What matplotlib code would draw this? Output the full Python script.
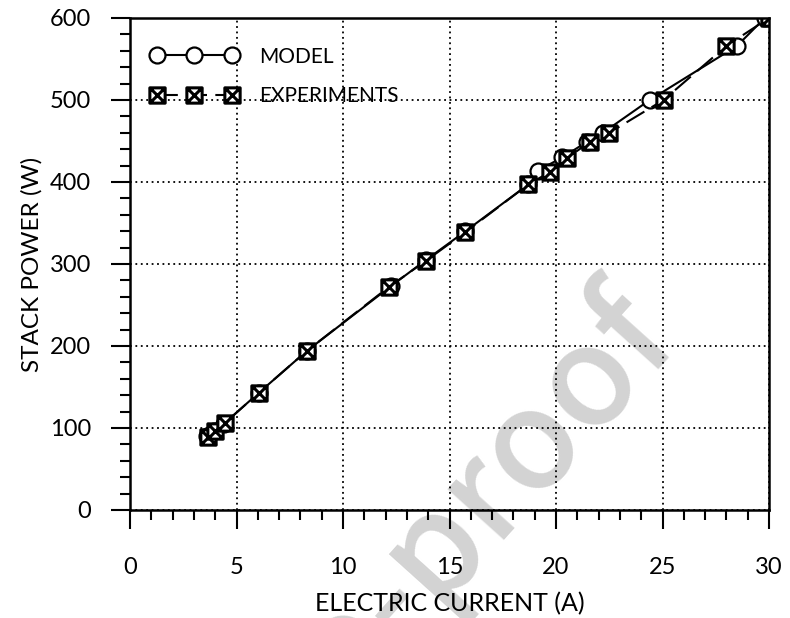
import matplotlib
matplotlib.use("Agg")
import matplotlib.pyplot as plt
from matplotlib.path import Path
from matplotlib.ticker import MultipleLocator

FONT = ["Lato", "DejaVu Sans"]
plt.rcParams['font.family'] = FONT

# data
model_current = [3.6, 3.95, 4.4, 6.05, 8.3, 12.25, 13.9, 15.75, 18.7, 19.15, 20.3, 21.45, 22.2, 24.4, 28.5, 29.8]
model_power = [90, 96, 105, 143, 194, 273, 305, 340, 397, 414, 430, 449, 460, 500, 566, 600]
exp_current = [3.65, 4.0, 4.45, 6.05, 8.3, 12.15, 13.9, 15.75, 18.7, 19.7, 20.5, 21.6, 22.5, 25.05, 28.0, 30.0]
exp_power = [89, 96, 106, 143, 194, 272, 304, 339, 397, 412, 429, 449, 460, 500, 566, 600]

x_ticks = [0, 5, 10, 15, 20, 25, 30]
y_ticks = [0, 100, 200, 300, 400, 500, 600]
x_label = "ELECTRIC CURRENT (A)"
y_label = "STACK POWER (W)"
legend_labels = ["MODEL", "EXPERIMENTS"]
watermark = "Journal Pre-proof"

sqx = Path([(-1, -1), (1, -1), (1, 1), (-1, 1), (-1, -1),
            (-1, -1), (1, 1), (-1, 1), (1, -1)],
           [Path.MOVETO, Path.LINETO, Path.LINETO, Path.LINETO, Path.CLOSEPOLY,
            Path.MOVETO, Path.LINETO, Path.MOVETO, Path.LINETO])

fig = plt.figure(figsize=(7.9, 6.18), dpi=100)
ax = fig.add_axes([130/790, 108/618, 639/790, 492/618])
ax.patch.set_alpha(0)

fig.text(0.862, 0.443, watermark, rotation=48, rotation_mode='anchor',
         ha='right', va='baseline', fontsize=100, fontweight='medium', color='#d3d3d3',
         family=["Noto Sans CJK JP", "DejaVu Sans"], zorder=-1)

ax.plot(model_current, model_power, color='black', lw=1.5, marker='o', ms=11.5,
        mfc='white', mec='black', mew=1.6, label=legend_labels[0], zorder=3)
ax.plot(exp_current, exp_power, color='black', lw=1.5, ls=(0, (10, 4)), marker=sqx, ms=11,
        mfc='white', mec='black', mew=2.2, label=legend_labels[1], zorder=4)

ax.set_xlim(0, 30)
ax.set_ylim(0, 600)
ax.set_xticks(x_ticks)
ax.set_yticks(y_ticks)
ax.xaxis.set_minor_locator(MultipleLocator(1))
ax.yaxis.set_minor_locator(MultipleLocator(20))
ax.tick_params(which='major', direction='out', length=14, width=1.5, labelsize=17)
ax.tick_params(axis='x', which='major', pad=20)
ax.tick_params(axis='y', which='major', pad=14)
ax.tick_params(which='minor', direction='out', length=7, width=1.5)
ax.grid(True, which='major', color='black', ls=(0, (1, 2)), lw=1.3)
ax.set_axisbelow(True)
for s in ax.spines.values():
    s.set_linewidth(1.8)
    s.set_zorder(5)

ax.set_xlabel(x_label, fontsize=18, labelpad=10)
ax.set_ylabel(y_label, fontsize=17.5, labelpad=5)

leg = ax.legend(loc='upper left', numpoints=3, frameon=False, fontsize=15,
                handlelength=4.2, handletextpad=1.0, labelspacing=0.95,
                bbox_to_anchor=(0.003, 0.98))

fig.savefig("out.png", dpi=100)
